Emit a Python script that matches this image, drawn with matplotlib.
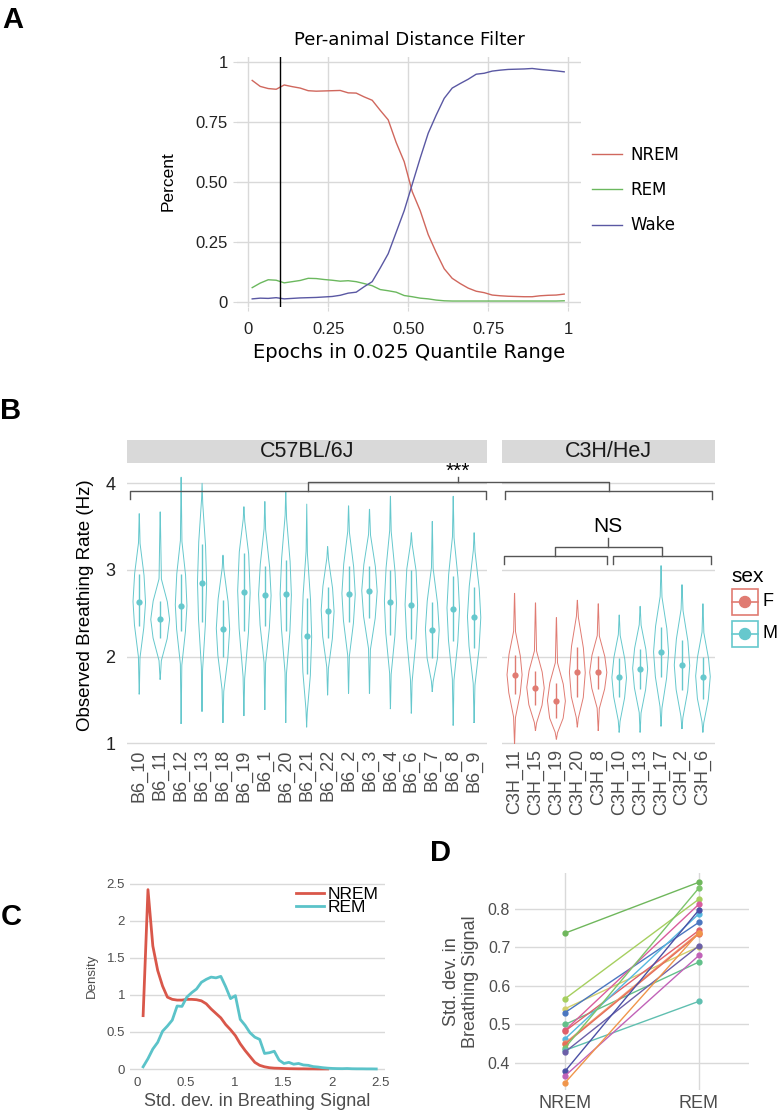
import numpy as np
import matplotlib
matplotlib.use('Agg')
import matplotlib.pyplot as plt
from matplotlib.lines import Line2D
from matplotlib.patches import Rectangle, Circle

plt.rcParams['font.family'] = ['Liberation Sans', 'DejaVu Sans']

# ---------------- data ----------------
# panel A: fraction of epochs per state along the distance quantile range
epoch_x = [0.0125 + 0.025 * i for i in range(40)]
nrem_frac = [0.925, 0.900, 0.891, 0.888, 0.906, 0.899, 0.893, 0.882, 0.880, 0.881,
             0.882, 0.883, 0.873, 0.872, 0.856, 0.842, 0.800, 0.760, 0.665, 0.585,
             0.460, 0.380, 0.280, 0.205, 0.137, 0.097, 0.075, 0.056, 0.043, 0.037,
             0.027, 0.024, 0.022, 0.021, 0.020, 0.020, 0.024, 0.026, 0.027, 0.031]
rem_frac = [0.058, 0.077, 0.091, 0.089, 0.078, 0.083, 0.088, 0.097, 0.096, 0.092,
            0.089, 0.085, 0.087, 0.083, 0.075, 0.066, 0.050, 0.045, 0.039, 0.025,
            0.020, 0.014, 0.011, 0.006, 0.003, 0.002, 0.002, 0.002, 0.002, 0.002,
            0.002, 0.002, 0.002, 0.002, 0.002, 0.002, 0.002, 0.002, 0.002, 0.003]
wake_frac = [0.011, 0.014, 0.013, 0.016, 0.011, 0.013, 0.015, 0.016, 0.017, 0.019,
             0.021, 0.026, 0.035, 0.039, 0.062, 0.083, 0.140, 0.200, 0.290, 0.380,
             0.490, 0.600, 0.704, 0.780, 0.850, 0.893, 0.912, 0.930, 0.951, 0.955,
             0.964, 0.968, 0.971, 0.972, 0.973, 0.975, 0.971, 0.968, 0.965, 0.961]
cutoff = 0.1

# panel B: breathing rate violins (min, q1, median, q3, max, half width)
b6_names = ['B6_10', 'B6_11', 'B6_12', 'B6_13', 'B6_18', 'B6_19', 'B6_1', 'B6_20',
            'B6_21', 'B6_22', 'B6_2', 'B6_3', 'B6_4', 'B6_6', 'B6_7', 'B6_8', 'B6_9']
b6_lo = [1.57, 1.74, 1.23, 1.37, 1.24, 1.32, 1.39, 1.24, 1.19, 1.56, 1.58, 1.58, 1.40, 1.35, 1.60, 1.21, 1.24]
b6_q1 = [2.35, 2.21, 2.30, 2.40, 2.00, 2.30, 2.35, 2.30, 1.80, 2.22, 2.40, 2.45, 2.25, 2.20, 1.98, 2.18, 2.10]
b6_med = [2.63, 2.43, 2.59, 2.85, 2.32, 2.75, 2.71, 2.72, 2.24, 2.53, 2.72, 2.76, 2.63, 2.60, 2.31, 2.55, 2.46]
b6_q3 = [2.95, 2.64, 2.95, 3.30, 2.65, 3.20, 3.05, 3.12, 2.68, 2.80, 3.05, 3.05, 3.00, 3.00, 2.63, 2.93, 2.80]
b6_hi = [3.65, 3.67, 4.07, 4.00, 3.17, 3.73, 3.79, 3.90, 3.76, 3.27, 3.74, 3.70, 3.85, 3.43, 3.56, 3.85, 3.43]
b6_w = [0.30, 0.45, 0.28, 0.22, 0.32, 0.30, 0.30, 0.27, 0.24, 0.31, 0.32, 0.37, 0.29, 0.30, 0.33, 0.30, 0.32]

c3h_names = ['C3H_11', 'C3H_15', 'C3H_19', 'C3H_20', 'C3H_8',
             'C3H_10', 'C3H_13', 'C3H_17', 'C3H_2', 'C3H_6']
c3h_sex = ['F', 'F', 'F', 'F', 'F', 'M', 'M', 'M', 'M', 'M']
c3h_lo = [1.00, 1.15, 1.05, 1.19, 1.15, 1.13, 1.13, 1.20, 1.17, 1.13]
c3h_q1 = [1.57, 1.44, 1.29, 1.53, 1.63, 1.53, 1.63, 1.76, 1.61, 1.51]
c3h_med = [1.79, 1.64, 1.49, 1.82, 1.82, 1.76, 1.86, 2.05, 1.90, 1.77]
c3h_q3 = [2.02, 1.83, 1.69, 2.11, 2.01, 1.98, 2.09, 2.34, 2.19, 1.99]
c3h_hi = [2.73, 2.62, 2.45, 2.65, 2.61, 2.48, 2.58, 3.05, 2.83, 2.61]
c3h_w = [0.36, 0.42, 0.43, 0.38, 0.41, 0.35, 0.36, 0.36, 0.37, 0.35]

# panel C: density of breathing signal std. dev.
sd_grid = np.round(np.arange(0.06, 2.47, 0.05), 2)
nrem_density = [0.72, 2.42, 1.66, 1.33, 1.12, 0.97, 0.94, 0.93, 0.93, 0.94,
                0.94, 0.935, 0.92, 0.88, 0.81, 0.75, 0.69, 0.60, 0.53, 0.45,
                0.34, 0.25, 0.17, 0.09, 0.05, 0.03, 0.018, 0.012, 0.010, 0.007,
                0.005, 0.004, 0.003, 0.003, 0.002, 0.002, 0.001, 0.001, 0.001]
rem_density = [0.03, 0.14, 0.27, 0.36, 0.51, 0.58, 0.66, 0.85, 0.845, 0.97,
               1.03, 1.08, 1.17, 1.21, 1.24, 1.23, 1.25, 1.11, 0.95, 0.99,
               0.67, 0.59, 0.49, 0.43, 0.40, 0.21, 0.22, 0.24, 0.12, 0.075,
               0.09, 0.065, 0.075, 0.055, 0.05, 0.033, 0.027, 0.018, 0.012, 0.008,
               0.006, 0.005, 0.007, 0.004, 0.003, 0.003, 0.002, 0.002, 0.001]

# panel D: per-animal mean std. dev. (NREM, REM)
animal_nrem = [0.737, 0.567, 0.541, 0.531, 0.500, 0.485, 0.483, 0.463,
               0.452, 0.449, 0.440, 0.433, 0.429, 0.379, 0.367, 0.349]
animal_rem = [0.869, 0.825, 0.702, 0.765, 0.662, 0.812, 0.744, 0.787,
              0.738, 0.735, 0.854, 0.560, 0.704, 0.797, 0.679, 0.738]
animal_colors = ['#6fb75c', '#a6cf5f', '#d2cf6b', '#4a76c0', '#62c08a', '#d95c9c', '#e0606a', '#56b8e0',
                 '#f2996a', '#e56e5a', '#7cc46a', '#5fbfb0', '#6b5fa8', '#4b50a5', '#c162b8', '#f0954a']

# ---------------- figure ----------------
W, H = 777, 1117
fig = plt.figure(figsize=(W / 100, H / 100), dpi=100)


def px_axes(l, t, r, b):
    return fig.add_axes([l / W, 1 - b / H, (r - l) / W, (b - t) / H])


def clean(ax):
    for s in ax.spines.values():
        s.set_visible(False)


GRID = '#d9d9d9'
GRAY = '#4d4d4d'
F_COL = '#e07b72'
M_COL = '#66c8cd'

# panel labels
for lab, x, y in [('A', 13, 20), ('B', 11, 411), ('C', 11, 917), ('D', 440, 853)]:
    fig.text(x / W, 1 - y / H, lab, fontsize=21, fontweight='bold', ha='center', va='center')

# ---- A ----
axA = px_axes(237, 57, 581, 307)
clean(axA)
axA.plot(epoch_x, nrem_frac, color='#d0675d', lw=1, label='NREM')
axA.plot(epoch_x, rem_frac, color='#6bb85e', lw=1, label='REM')
axA.plot(epoch_x, wake_frac, color='#5a58a3', lw=1, label='Wake')
axA.axvline(cutoff, color='black', lw=1)
axA.set_xlim(-0.035, 1.04)
axA.set_ylim(-0.023, 1.023)
ticks = [0, 0.25, 0.5, 0.75, 1]
tlabs = ['0', '0.25', '0.50', '0.75', '1']
axA.set_xticks(ticks, tlabs)
axA.set_yticks(ticks, tlabs)
axA.tick_params(length=3, color=GRID, labelsize=12, labelcolor='#222222')
axA.tick_params(axis='x', pad=8)
axA.grid(True, color=GRID, lw=1)
axA.set_axisbelow(True)
fig.text(409 / W, 1 - 40 / H, 'Per-animal Distance Filter', family='DejaVu Sans',
         fontsize=13, ha='center', va='center')
fig.text(409 / W, 1 - 353 / H, 'Epochs in 0.025 Quantile Range', family='DejaVu Sans',
         fontsize=14, ha='center', va='center')
fig.text(168 / W, 1 - 181 / H, 'Percent', fontsize=12.5, rotation=90, ha='center', va='center')
fig.legend(loc='center left', bbox_to_anchor=(592 / W, 1 - 190 / H), frameon=False,
           prop={'family': 'DejaVu Sans', 'size': 12}, handlelength=1.8,
           handletextpad=0.5, labelspacing=1.05, borderaxespad=0, borderpad=0)

# ---- B ----
unit = 20.93
axL = px_axes(126.7, 466, 126.7 + 17.2 * unit, 745)
axR = px_axes(502, 466, 502 + 10.2 * unit, 745)


def violin(ax, pos, lo, q1, med, q3, hi, w, col):
    # diamond-like outline through the read quantiles, long thin tails to min/max
    iqr = q3 - q1
    body_lo = max(q1 - 0.6 * iqr, lo + 0.3 * (q1 - lo))
    body_hi = min(q3 + 0.6 * iqr, hi - 0.3 * (hi - q3))
    yk = [lo, body_lo, q1, med, q3, body_hi, hi]
    wk = [0.01, 0.12, 0.75, 1.0, 0.75, 0.12, 0.01]
    ys = np.linspace(lo, hi, 200)
    hw = np.interp(ys, yk, wk) * w
    ax.plot(np.concatenate([pos - hw, (pos + hw)[::-1], [pos - hw[0]]]),
            np.concatenate([ys, ys[::-1], [ys[0]]]), color=col, lw=0.7)
    ax.vlines(pos, q1, q3, color=col, lw=1.0)
    ax.plot(pos, med, 'o', color=col, ms=4.5, mec='none')


for i in range(len(b6_names)):
    violin(axL, i, b6_lo[i], b6_q1[i], b6_med[i], b6_q3[i], b6_hi[i], b6_w[i], M_COL)
for i in range(len(c3h_names)):
    col = F_COL if c3h_sex[i] == 'F' else M_COL
    violin(axR, i, c3h_lo[i], c3h_q1[i], c3h_med[i], c3h_q3[i], c3h_hi[i], c3h_w[i], col)

for ax, names in [(axL, b6_names), (axR, c3h_names)]:
    clean(ax)
    ax.set_xlim(-0.6, len(names) - 0.4)
    ax.set_ylim(0.98, 4.2)
    ax.set_yticks([1, 2, 3, 4])
    ax.set_xticks(range(len(names)), names, rotation=90)
    ax.tick_params(axis='x', length=0, labelsize=13, labelcolor=GRAY, pad=3)
    ax.tick_params(axis='y', length=0, labelsize=13, labelcolor='#222222', pad=8)
    ax.grid(True, axis='y', color=GRID, lw=1)
    ax.set_axisbelow(True)
axR.tick_params(axis='y', labelleft=False)
axL.set_ylabel('Observed Breathing Rate (Hz)', fontsize=13.5, labelpad=8)

# facet strips
for l, r, txt in [(126.7, 126.7 + 17.2 * unit, 'C57BL/6J'), (502, 502 + 10.2 * unit, 'C3H/HeJ')]:
    sa = px_axes(l, 440, r, 463)
    sa.set_facecolor('#d9d9d9')
    sa.set_xticks([])
    sa.set_yticks([])
    clean(sa)
    sa.text(0.5, 0.5, txt, fontsize=15.5, ha='center', va='center', color='#1a1a1a',
            transform=sa.transAxes)


# significance brackets
def to_fig(ax, x, y):
    return fig.transFigure.inverted().transform(ax.transData.transform((x, y)))


def fline(pts, col='#555555'):
    xy = np.array([to_fig(a, x, y) for a, x, y in pts])
    fig.add_artist(Line2D(xy[:, 0], xy[:, 1], transform=fig.transFigure, color=col, lw=1))


fline([(axL, -0.45, 3.82), (axL, -0.45, 3.91), (axL, 16.55, 3.91), (axL, 16.55, 3.82)])
fline([(axR, -0.45, 3.82), (axR, -0.45, 3.91), (axR, 9.45, 3.91), (axR, 9.45, 3.82)])
fline([(axL, 8.05, 3.91), (axL, 8.05, 4.01), (axR, 4.5, 4.01), (axR, 4.5, 3.91)])
fline([(axL, 15.23, 4.01), (axL, 15.23, 4.07)])
sx, sy = to_fig(axL, 15.23, 4.14)
fig.text(sx, sy, '***', fontsize=15, ha='center', va='center')

fline([(axR, -0.5, 3.07), (axR, -0.5, 3.16), (axR, 4.4, 3.16), (axR, 4.4, 3.07)])
fline([(axR, 4.72, 3.07), (axR, 4.72, 3.16), (axR, 9.39, 3.16), (axR, 9.39, 3.07)])
fline([(axR, 1.95, 3.16), (axR, 1.95, 3.27), (axR, 7.06, 3.27), (axR, 7.06, 3.16)])
fline([(axR, 4.48, 3.27), (axR, 4.48, 3.37)])
nx, ny = to_fig(axR, 4.48, 3.39)
fig.text(nx, ny, 'NS', fontsize=15, ha='center', va='bottom')

# sex legend
legax = px_axes(720, 560, 777, 660)
legax.set_xlim(720, 777)
legax.set_ylim(660, 560)
legax.axis('off')
legax.text(731, 577, 'sex', fontsize=15, ha='left', va='center')
for yk, col, lab in [(589, F_COL, 'F'), (621, M_COL, 'M')]:
    legax.add_patch(Rectangle((732, yk), 26, 26, fill=False, ec=col, lw=1.2))
    legax.plot([732, 758], [yk + 13, yk + 13], color=col, lw=1.2)
    legax.add_patch(Circle((745, yk + 13), 5.5, color=col))
    legax.text(762, yk + 13, lab, fontsize=13, ha='left', va='center')

# ---- C ----
axC = px_axes(130, 880, 385, 1072)
clean(axC)
axC.plot(sd_grid[:len(nrem_density)], nrem_density, color='#d9574a', lw=2, label='NREM')
axC.plot(sd_grid[:len(rem_density)], rem_density, color='#5bc3c9', lw=2, label='REM')
axC.set_xlim(-0.075, 2.55)
axC.set_ylim(-0.04, 2.55)
axC.set_xticks([0, 0.5, 1, 1.5, 2, 2.5], ['0', '0.5', '1', '1.5', '2', '2.5'])
axC.set_yticks([0, 0.5, 1, 1.5, 2, 2.5], ['0', '0.5', '1', '1.5', '2', '2.5'])
axC.tick_params(length=0, labelsize=9.5, labelcolor=GRAY)
axC.grid(True, axis='y', color=GRID, lw=1)
axC.set_axisbelow(True)
axC.set_ylabel('Density', fontsize=9.5, color=GRAY, labelpad=6)
axC.set_xlabel('Std. dev. in Breathing Signal', fontsize=13, color=GRAY, labelpad=3)
axC.legend(loc='upper right', bbox_to_anchor=(1.0, 1.0), frameon=False, fontsize=12.5,
           handlelength=1.6, handletextpad=0.2, labelspacing=-0.12, borderaxespad=0)

# ---- D ----
axD = px_axes(515, 873, 749, 1090)
clean(axD)
for a_n, a_r, col in zip(animal_nrem, animal_rem, animal_colors):
    axD.plot([0, 1], [a_n, a_r], color=col, lw=1, marker='o', ms=3.5)
axD.set_xlim(-0.375, 1.375)
axD.set_ylim(0.33, 0.893)
axD.set_xticks([0, 1], ['NREM', 'REM'])
axD.set_yticks([0.4, 0.5, 0.6, 0.7, 0.8])
axD.tick_params(length=0, labelsize=11.5, labelcolor=GRAY)
axD.tick_params(axis='x', labelsize=13)
axD.grid(True, color=GRID, lw=1)
axD.set_axisbelow(True)
axD.set_ylabel('Std. dev. in\nBreathing Signal', fontsize=13, color=GRAY, labelpad=6)

fig.savefig('out.png', dpi=100)
